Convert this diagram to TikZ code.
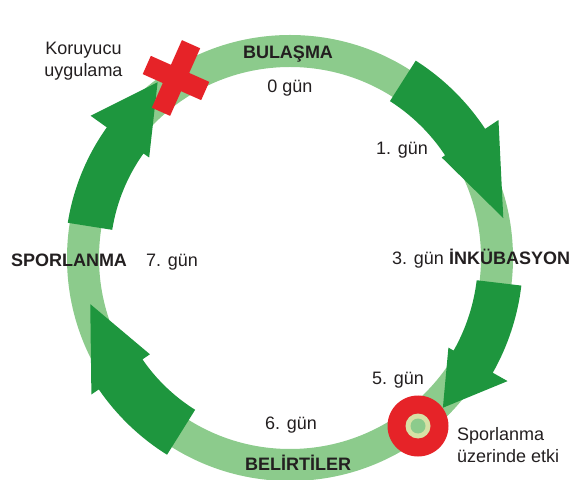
\documentclass[tikz,border=0pt]{standalone}
\usepackage{fontspec}
\setmainfont{Liberation Sans}
\definecolor{ringgreen}{RGB}{140,203,140}
\definecolor{arrowgreen}{RGB}{30,150,62}
\definecolor{markred}{RGB}{230,35,40}
\definecolor{txt}{RGB}{35,31,32}
\definecolor{holerim}{RGB}{215,225,165}
% #1 tail angle, #2 head-base angle, #3 tip angle,
% #4 shaft inner r, #5 shaft outer r, #6 barb inner r, #7 barb outer r, #8 tip r
\newcommand{\cyclearrow}[8]{%
  \fill[arrowgreen] (#1:#5) arc[start angle=#1, end angle=#2, radius=#5]
    -- (#2:#7) -- (#3:#8) -- (#2:#6) -- (#2:#4)
    arc[start angle=#2, end angle=#1, radius=#4] -- cycle;}
\begin{document}
\begin{tikzpicture}[x=1pt,y=1pt,
  lbl/.style={font=\fontsize{18}{22}\selectfont, text=txt, inner sep=0pt},
  bold/.style={lbl, font=\fontsize{18}{22}\selectfont\bfseries},
  redmark/.style={fill=markred, inner sep=0pt, rotate=-24}]
\useasboundingbox (0,0) rectangle (575,479);
\coordinate (C) at (290,221);
\draw[ringgreen, line width=32pt] (C) circle[radius=207];
\begin{scope}[shift={(290,221)}]
  \cyclearrow{57.5}{33.5}{10.6}{186}{234}{182}{250}{217}
  \cyclearrow{-6.8}{-29.5}{-44.4}{188}{233}{182}{250}{214}
  \cyclearrow{238}{214.5}{193}{179}{232}{170}{241}{205}
  \cyclearrow{171}{144.5}{127}{180}{225}{173}{245}{220}
\end{scope}
% red ring marker
\node[circle, fill=markred, minimum size=61pt, inner sep=0pt] (spot) at (418,53) {};
\node[circle, fill=holerim, minimum size=25pt, inner sep=0pt] (hole) at (spot) {};
\node[circle, fill=ringgreen, minimum size=15pt, inner sep=0pt] (holein) at (spot) {};
% red cross
\node[redmark, minimum width=64pt, minimum height=20pt] (crossA) at (176,401) {};
\node[redmark, minimum width=20pt, minimum height=74pt] (crossB) at (176,401) {};
% labels
\node[bold, anchor=base] (bulasma) at (288,420.7) {BULAŞMA};
\node[lbl, anchor=base] (g0) at (290,386.3) {0 gün};
\node[lbl, anchor=base] (g1) at (402,324) {1. gün};
\node[lbl, anchor=base] (g3) at (418,214) {3. gün};
\node[bold, anchor=base west] (inku) at (449,214) {İNKÜBASYON};
\node[bold, anchor=base] (spor) at (69,212) {SPORLANMA};
\node[lbl, anchor=base] (g7) at (172,212) {7. gün};
\node[lbl, anchor=base] (g5) at (398,94) {5. gün};
\node[lbl, anchor=base] (g6) at (291,49) {6. gün};
\node[bold, anchor=base] (belirti) at (298,9) {BELİRTİLER};
\node[lbl, anchor=north, align=center] (koru) at (83.5,437) {Koruyucu\\uygulama};
\node[lbl, anchor=north west, align=left] (etki) at (457,52) {Sporlanma\\üzerinde etki};
\end{tikzpicture}
\end{document}
